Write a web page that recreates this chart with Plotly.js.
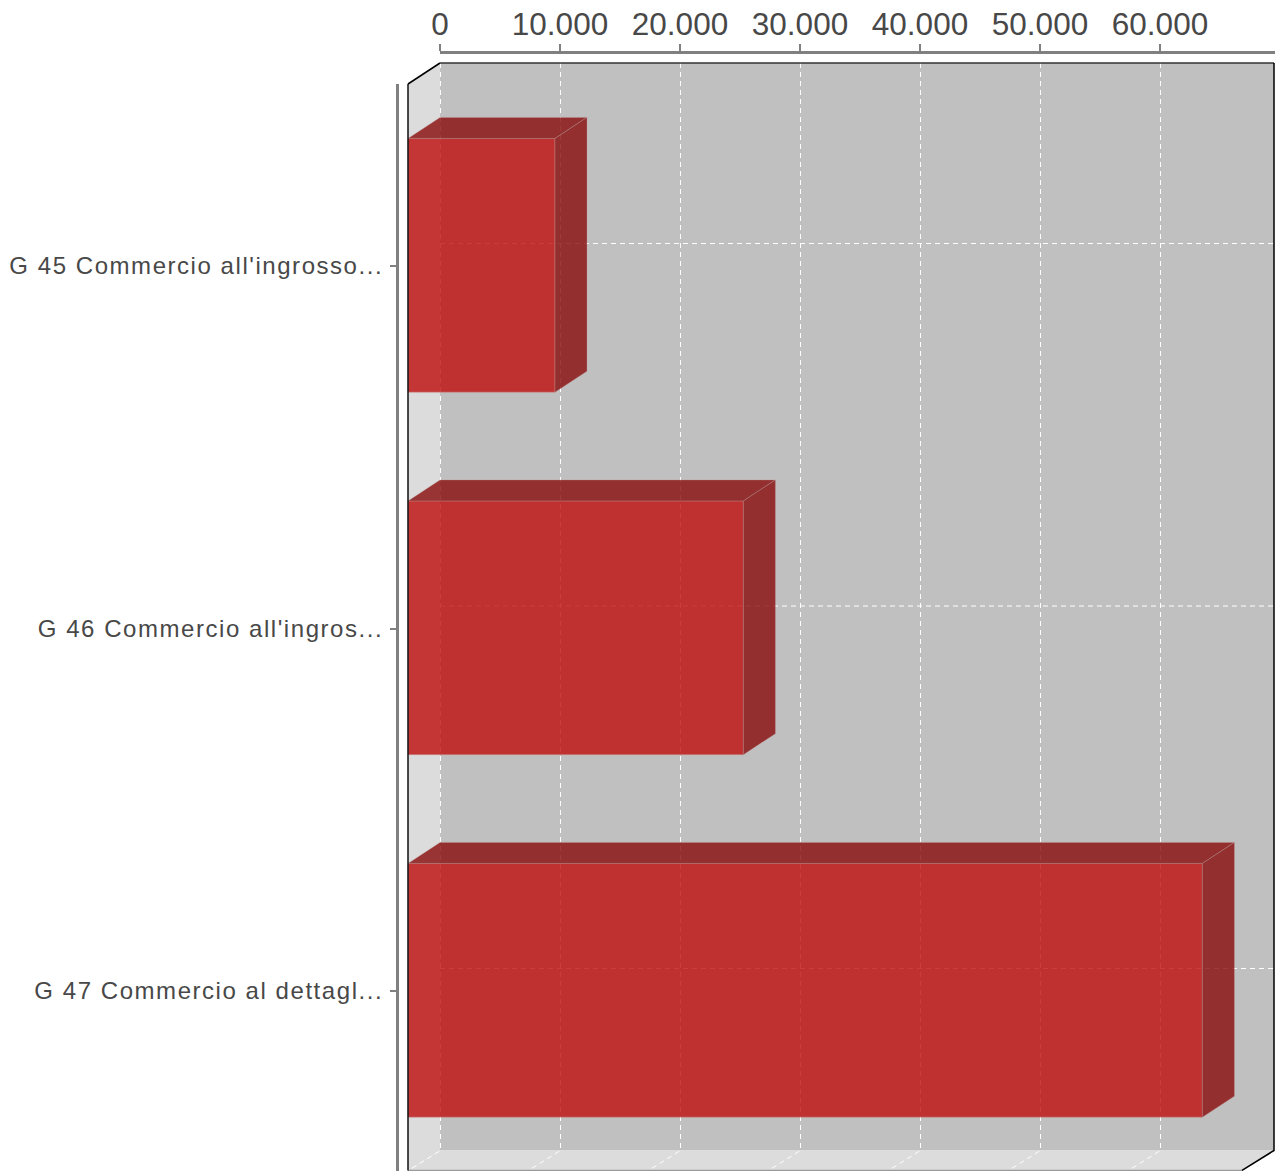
<!DOCTYPE html>
<html>
<head>
<meta charset="utf-8">
<script src="https://cdn.plot.ly/plotly-3.0.1.min.js"></script>
<style>
html,body{margin:0;padding:0;background:#fff;}
.y2tick text{letter-spacing:1.55px;}
</style>
</head>
<body>
<div id="chart" style="width:1275px;height:1171px;"></div>
<script>
const categories = ["G 45 Commercio all'ingrosso...", "G 46 Commercio all'ingros...", "G 47 Commercio al dettagl..."];
const values = [12250, 27950, 66200];
const xTickValues = [0, 10000, 20000, 30000, 40000, 50000, 60000];
const xTickLabels = ["0", "10.000", "20.000", "30.000", "40.000", "50.000", "60.000"];

const W = 1275, H = 1171;
const pxPerValue = 0.012, pxPerCat = 362.5;
const frontLeft = 408, bandTop = 84, depthX = 32, depthY = 21;
const dx = depthX / pxPerValue, dy = depthY / pxPerCat;
const barWidth = 0.7;
const xEnd = 69500;                 // back wall right end, value units
const yFront = 2.497;               // floor front edge
const yTopFront = -0.5;
const yBack0 = yTopFront - dy, yBack1 = 2.5 - dy;
const gridDy = 21.75 / pxPerCat;
const gridNudge = 0.5 / pxPerValue; // centres the dashed lines on a pixel
const tickNudge = 0.75 / pxPerCat;  // category ticks sit slightly below the band centre

const cats = categories.map((_, i) => i);

function poly(pts){ return 'M' + pts.map(p => p[0] + ',' + p[1]).join('L') + 'Z'; }
function open(pts){ return 'M' + pts.map(p => p[0] + ',' + p[1]).join('L'); }
function pathShape(path, fill, color, width, dash){
  return {type:'path', xref:'x', yref:'y', layer:'below', path,
          fillcolor: fill || 'rgba(0,0,0,0)',
          line:{color: color || 'rgba(0,0,0,0)', width: width || 0, dash: dash || 'solid'}};
}

const shapes = [];
// walls
shapes.push(pathShape(poly([[dx,yBack0],[xEnd+dx,yBack0],[xEnd+dx,yBack1],[dx,yBack1]]), '#c0c0c0'));
shapes.push(pathShape(poly([[0,yTopFront],[dx,yBack0],[dx,yBack1],[0,yFront]]), '#dcdcdc'));
shapes.push(pathShape(poly([[dx,yBack1],[xEnd+dx,yBack1],[xEnd,yFront],[0,yFront]]), '#dcdcdc'));
// grid
const gridColor = '#ffffff', gridDash = '5px,4px';
xTickValues.forEach(t => {
  const gx = t + gridNudge;
  shapes.push(pathShape(open([[gx+dx,yBack0],[gx+dx,yBack1],[gx,yFront]]), null, gridColor, 1, gridDash));
});
cats.forEach(c => {
  shapes.push(pathShape(open([[dx,c-gridDy],[xEnd+dx,c-gridDy]]), null, gridColor, 1, gridDash));
});
// wall edges
shapes.push(pathShape(open([[0,yFront],[xEnd,yFront]]), null, '#9a9a9a', 1.5));
shapes.push(pathShape(open([[0,yTopFront],[dx,yBack0]]), null, '#000', 1.5));
shapes.push(pathShape(open([[dx,yBack0],[xEnd+dx,yBack0]]), null, '#333', 1.5));
shapes.push(pathShape(open([[xEnd+dx,yBack0],[xEnd+dx,yBack1],[xEnd,yFront]]), null, '#000', 1.5));

function faceTrace(build, fill){
  const xs = [], ys = [];
  values.forEach((v, i) => {
    build(v, i).forEach(p => { xs.push(p[0]); ys.push(p[1]); });
    xs.push(null); ys.push(null);
  });
  return {type:'scatter', x:xs, y:ys, xaxis:'x', yaxis:'y', mode:'lines', fill:'toself',
          fillcolor:fill, line:{color:'rgba(190,150,150,0.45)', width:0.8}, hoverinfo:'skip', showlegend:false};
}
const half = barWidth / 2;
const faceFill = 'rgba(135,10,10,0.8)';
const topFace = faceTrace((v,i) => [[0,i-half],[dx,i-half-dy],[v+dx,i-half-dy],[v,i-half],[0,i-half]], faceFill);
const sideFace = faceTrace((v,i) => [[v,i-half],[v+dx,i-half-dy],[v+dx,i+half-dy],[v,i+half],[v,i-half]], faceFill);

const front = {type:'bar', orientation:'h', x:values, y:cats, width:barWidth, xaxis:'x', yaxis:'y',
  marker:{color:'rgba(190,12,12,0.8)', line:{color:'rgba(200,150,150,0.45)', width:1}},
  hoverinfo:'x', showlegend:false};

// front-left edge of the box sits above the bars
const leftEdge = {type:'scatter', x:[0,0], y:[yTopFront,yFront], xaxis:'x', yaxis:'y', mode:'lines',
  line:{color:'#111', width:1.5}, hoverinfo:'skip', showlegend:false};

// ties the visible axes to the chart
const axisHolder = {type:'scatter', x:[0], y:[0], xaxis:'x2', yaxis:'y2', mode:'none', hoverinfo:'skip', showlegend:false};

const layout = {
  width:W, height:H, margin:{l:0,r:0,t:0,b:0,pad:0},
  paper_bgcolor:'#fff', plot_bgcolor:'rgba(0,0,0,0)',
  font:{family:'"Liberation Sans", Arial, sans-serif', color:'#484848'},
  barmode:'overlay', showlegend:false, shapes,
  xaxis:{domain:[0,1], range:[-frontLeft/pxPerValue,(W-frontLeft)/pxPerValue], visible:false, fixedrange:true},
  yaxis:{domain:[0,1], range:[yTopFront-bandTop/pxPerCat+H/pxPerCat, yTopFront-bandTop/pxPerCat], visible:false, fixedrange:true},
  xaxis2:{domain:[440/W,1], range:[0,(W-440)/pxPerValue], side:'top', anchor:'free', position:1-52/H,
    tickmode:'array', tickvals:xTickValues, ticktext:xTickLabels, ticks:'outside', ticklen:7, tickwidth:2.5, tickcolor:'#808080',
    showline:true, linecolor:'#808080', linewidth:2.5, showgrid:false, zeroline:false,
    tickfont:{size:31.5, color:'#484848'}, ticklabelstandoff:-4, fixedrange:true},
  yaxis2:{domain:[0,1-bandTop/H], range:[yTopFront+(H-bandTop)/pxPerCat-tickNudge, yTopFront-tickNudge], side:'left', anchor:'free', position:397/W,
    tickmode:'array', tickvals:cats, ticktext:categories, ticks:'outside', ticklen:6, tickwidth:2, tickcolor:'#808080',
    showline:true, linecolor:'#808080', linewidth:3, showgrid:false, zeroline:false,
    tickfont:{size:24, color:'#484848'}, ticklabelstandoff:2, fixedrange:true}
};
Plotly.newPlot('chart', [front, topFace, sideFace, leftEdge, axisHolder], layout, {displayModeBar:false, staticPlot:true});
</script>
</body>
</html>
